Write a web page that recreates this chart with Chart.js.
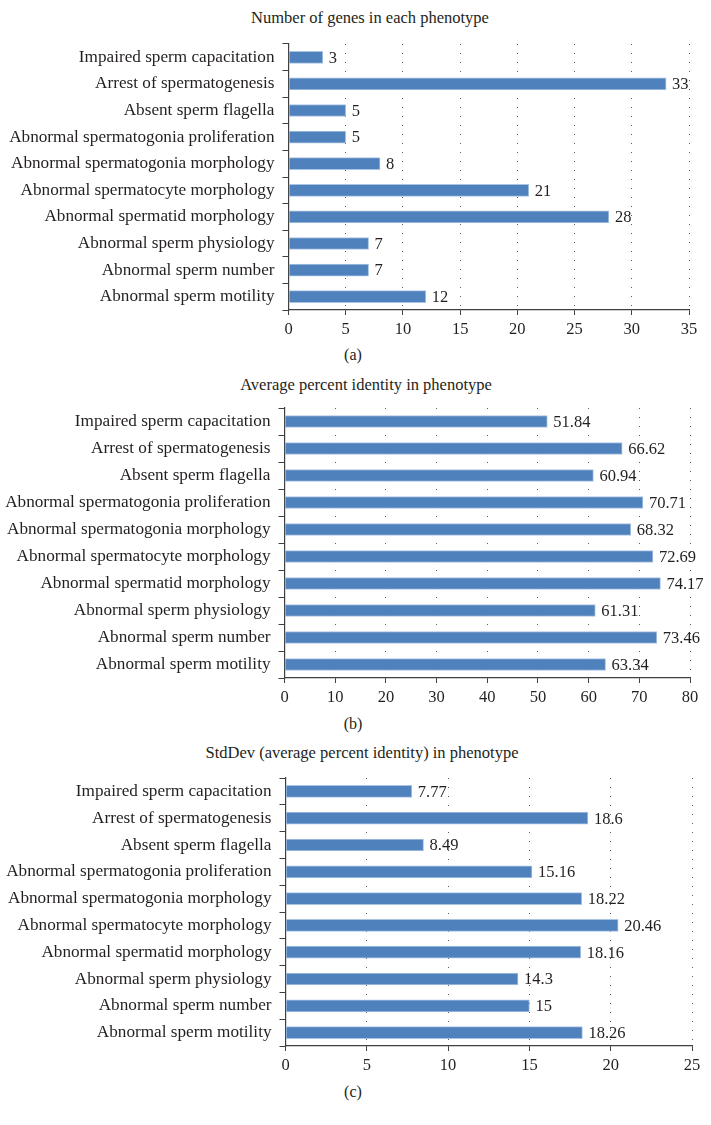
<!DOCTYPE html>
<html>
<head>
<meta charset="utf-8">
<script src="https://cdn.jsdelivr.net/npm/chart.js@4.4.1/dist/chart.umd.min.js"></script>
<style>
  body { margin: 0; background: #fff; width: 711px; height: 1125px; position: relative; overflow: hidden; }
  canvas { position: absolute; left: 0; }
  .ttl, .cap { position: absolute; text-align: center; white-space: nowrap;
         font-family: 'Liberation Serif', serif; color: #231f20; }
  .ttl { width: 400px; margin-left: -200px; font-size: 16.5px; line-height: 20px; }
  .cap { width: 60px; margin-left: -30px; font-size: 16px; line-height: 20px; }
</style>
</head>
<body>
<div class="ttl" style="left:370px; top:8px">Number of genes in each phenotype</div>
<canvas id="chartA" style="top:0px"></canvas>
<div class="cap" style="left:353px; top:345px">(a)</div>
<div class="ttl" style="left:366px; top:375px">Average percent identity in phenotype</div>
<canvas id="chartB" style="top:360px"></canvas>
<div class="cap" style="left:353px; top:714px">(b)</div>
<div class="ttl" style="left:362px; top:743px">StdDev (average percent identity) in phenotype</div>
<canvas id="chartC" style="top:730px"></canvas>
<div class="cap" style="left:353px; top:1082px">(c)</div>

<script>
const phenotypes = [
    'Impaired sperm capacitation',
    'Arrest of spermatogenesis',
    'Absent sperm flagella',
    'Abnormal spermatogonia proliferation',
    'Abnormal spermatogonia morphology',
    'Abnormal spermatocyte morphology',
    'Abnormal spermatid morphology',
    'Abnormal sperm physiology',
    'Abnormal sperm number',
    'Abnormal sperm motility'
];

const geneCounts = [3, 33, 5, 5, 8, 21, 28, 7, 7, 12];
const avgIdentity = [51.84, 66.62, 60.94, 70.71, 68.32, 72.69, 74.17, 61.31, 73.46, 63.34];
const stdDevIdentity = [7.77, 18.6, 8.49, 15.16, 18.22, 20.46, 18.16, 14.3, 15, 18.26];

const axisMaxA = 35, stepA = 5;
const axisMaxB = 80, stepB = 10;
const axisMaxC = 25, stepC = 5;

const FONT = "'Liberation Serif', 'Times New Roman', serif";
const TEXT = '#231f20';
const AXIS = '#404040';

// draws the number next to the end of each bar
const valueLabels = {
    id: 'valueLabels',
    afterDatasetsDraw(chart) {
        const ctx = chart.ctx;
        const meta = chart.getDatasetMeta(0);
        const values = chart.data.datasets[0].data;
        ctx.save();
        ctx.font = '16.5px ' + FONT;
        ctx.fillStyle = TEXT;
        ctx.textAlign = 'left';
        ctx.textBaseline = 'middle';
        meta.data.forEach((bar, i) => {
            ctx.fillText(String(values[i]), bar.x + 6, bar.y + 1);
        });
        ctx.restore();
    }
};

function makeChart(id, values, max, step, g) {
    const canvas = document.getElementById(id);
    canvas.width = 711;
    canvas.height = g.height;
    canvas.style.width = '711px';
    canvas.style.height = g.height + 'px';

    return new Chart(canvas.getContext('2d'), {
        type: 'bar',
        data: {
            labels: phenotypes,
            datasets: [{
                data: values,
                backgroundColor: '#4f81bd',
                borderColor: '#a9c4e4',
                borderWidth: 1,
                borderSkipped: false,
                barThickness: 12
            }]
        },
        options: {
            indexAxis: 'y',
            responsive: false,
            animation: false,
            layout: {
                padding: { left: 0, right: 711 - g.right, top: g.top, bottom: 0 }
            },
            scales: {
                x: {
                    type: 'linear',
                    min: 0,
                    max: max,
                    afterFit: (scale) => { scale.height = g.height - g.bottom; },
                    ticks: {
                        stepSize: step,
                        color: TEXT,
                        padding: 5,
                        font: { family: FONT, size: 16.5 }
                    },
                    grid: {
                        color: '#5a5a5a',
                        lineWidth: 1,
                        tickColor: AXIS,
                        tickLength: 5
                    },
                    border: { color: AXIS, width: 1.2, dash: [1, 8] }
                },
                y: {
                    afterFit: (scale) => { scale.width = g.left; },
                    ticks: {
                        color: TEXT,
                        padding: 8,
                        font: { family: FONT, size: 17.2 }
                    },
                    grid: {
                        offset: true,
                        drawOnChartArea: false,
                        color: AXIS,
                        tickLength: 6
                    },
                    border: { color: AXIS, width: 1.2 }
                }
            },
            plugins: {
                legend: { display: false },
                tooltip: { enabled: false },
                title: { display: false }
            }
        },
        plugins: [valueLabels]
    });
}

makeChart('chartA', geneCounts, axisMaxA, stepA,
    { height: 345, left: 288.5, right: 689, top: 44, bottom: 310 });

makeChart('chartB', avgIdentity, axisMaxB, stepB,
    { height: 353, left: 284.5, right: 690, top: 48, bottom: 318 });

makeChart('chartC', stdDevIdentity, axisMaxC, stepC,
    { height: 351, left: 285.5, right: 692, top: 48, bottom: 316 });
</script>
</body>
</html>
